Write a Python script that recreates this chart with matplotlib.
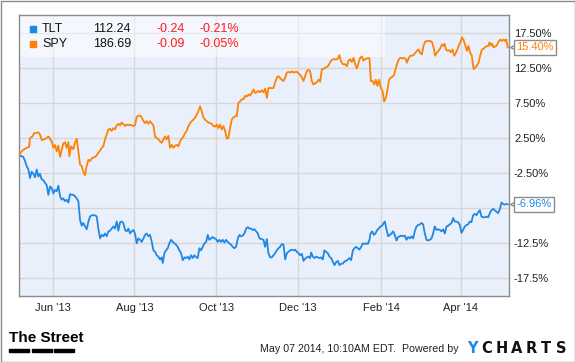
import matplotlib
matplotlib.use("Agg")
import matplotlib.pyplot as plt
import matplotlib.dates as mdates
from matplotlib.patches import Rectangle
from matplotlib.transforms import blended_transform_factory, ScaledTranslation
import pandas as pd

# ---- data (percent change since 2013-05-07) ----
start = pd.Timestamp("2013-05-07")
end = pd.Timestamp("2014-05-07")

tickers = ["TLT", "SPY"]
prices = ["112.24", "186.69"]
changes = ["-0.24", "-0.09"]
change_pcts = ["-0.21%", "-0.05%"]
last_labels = ["-6.96%", "15.40%"]
colors = ["#1e88e5", "#ff8205"]

tlt_day = [0, 2.0, 3.2, 4.5, 5.7, 7.0, 8.2, 9.4, 10.7, 11.9, 13.2, 14.4, 15.6, 16.9, 18.1,
           19.4, 20.6, 21.9, 23.1, 24.3, 25.6, 26.8, 28.1, 29.3, 30.6, 31.8, 33.0, 34.3, 35.5,
           36.8, 38.0, 39.2, 40.5, 41.7, 43.0, 44.2, 45.5, 46.7, 47.9, 49.2, 50.4, 51.7, 52.9,
           54.2, 56.6, 57.9, 59.1, 60.4, 61.6, 62.8, 64.1, 65.3, 66.6, 67.8, 69.0, 70.3, 71.5,
           72.8, 74.0, 75.3, 76.5, 77.7, 79.0, 80.2, 81.5, 82.7, 83.9, 85.2, 86.4, 87.7, 88.9,
           90.2, 91.4, 92.7, 93.9, 95.1, 96.4, 97.6, 98.9, 100.1, 101.3, 102.6, 103.8, 105.1,
           106.3, 107.1, 108.3, 109.5, 110.8, 112.0, 113.3, 114.5, 115.8, 117.0, 118.2, 119.5,
           120.7, 122.0, 123.2, 124.4, 125.7, 126.9, 128.2, 129.4, 130.7, 131.9, 133.1, 134.4,
           135.6, 136.9, 138.1, 139.4, 140.6, 141.8, 143.1, 144.3, 145.6, 146.8, 148.0, 149.3,
           150.5, 151.8, 153.0, 154.3, 155.5, 156.7, 158.0, 159.2, 160.5, 161.7, 163.0, 164.2,
           165.4, 166.7, 167.9, 169.2, 170.4, 171.6, 172.9, 174.1, 175.4, 176.6, 177.9, 179.1,
           182.1, 183.3, 184.6, 185.8, 187.1, 188.3, 189.5, 190.8, 192.0, 193.3, 194.5, 195.8,
           197.0, 198.3, 199.5, 200.7, 202.0, 203.2, 204.4, 205.7, 206.9, 208.2, 209.4, 210.7,
           211.9, 213.1, 214.4, 215.6, 216.9, 217.6, 218.9, 220.1, 221.3, 222.6, 223.8, 225.0,
           226.3, 227.5, 228.8, 230.0, 231.3, 232.5, 233.7, 235.0, 236.2, 237.5, 238.7, 240.0,
           241.2, 242.4, 243.7, 244.9, 246.2, 247.4, 248.7, 249.9, 251.1, 252.4, 253.6, 254.9,
           256.1, 257.3, 258.6, 259.8, 261.1, 261.8, 263.1, 264.3, 265.5, 266.8, 268.0, 269.3,
           270.5, 271.7, 272.5, 273.7, 275.0, 276.2, 277.5, 278.7, 279.9, 281.2, 282.4, 283.7,
           284.9, 286.1, 287.4, 288.6, 289.9, 291.1, 292.4, 293.6, 294.8, 296.1, 297.3, 298.6,
           299.8, 301.0, 302.3, 303.5, 304.8, 306.0, 307.3, 308.5, 309.7, 311.0, 312.2, 313.5,
           314.7, 315.9, 317.2, 318.4, 319.7, 320.9, 322.2, 323.4, 324.6, 325.9, 327.1, 328.4,
           329.6, 330.8, 332.1, 333.3, 334.6, 335.8, 337.0, 338.3, 339.5, 340.8, 342.0, 343.3,
           344.5, 345.7, 347.0, 348.2, 349.5, 350.7, 351.9, 353.2, 354.4, 355.7, 356.9, 358.1,
           359.4, 360.6, 361.9, 363.1, 364.0]
tlt_pct = [0.0, -0.1, -0.2, -0.8, -1.5, -2.0, -3.2, -2.3, -2.6, -3.1, -2.0, -3.0, -2.6, -3.4, -3.5,
           -3.9, -4.2, -5.6, -4.4, -4.6, -5.4, -4.9, -5.1, -4.3, -5.8, -6.3, -6.1, -6.5, -6.3,
           -6.7, -5.5, -5.6, -5.6, -5.8, -6.1, -6.5, -9.2, -10.0, -9.6, -10.1, -10.5, -9.4, -8.7,
           -8.5, -8.5, -8.7, -10.4, -11.8, -11.3, -11.5, -11.1, -11.5, -10.8, -10.7, -10.4, -10.1, -10.4,
           -9.4, -10.7, -9.5, -9.4, -9.6, -10.6, -10.8, -10.4, -11.1, -10.8, -10.6, -11.1, -12.5, -11.8,
           -12.0, -12.3, -11.8, -11.3, -11.1, -11.5, -11.3, -12.3, -13.5, -13.7, -14.2, -14.4, -14.8,
           -14.5, -15.3, -13.9, -13.5, -13.2, -12.5, -12.0, -12.3, -12.5, -12.7, -13.0, -13.5,
           -13.9, -14.9, -14.5, -14.6, -14.4, -14.8, -14.2, -14.6, -14.2, -14.5, -14.6, -13.2,
           -13.5, -13.0, -12.5, -12.3, -11.3, -12.0, -11.8, -11.6, -11.8, -11.9, -12.3, -12.0,
           -12.3, -12.0, -12.4, -12.0, -12.3, -12.5, -12.7, -13.0, -13.2, -13.0, -11.8, -11.3,
           -11.5, -11.4, -11.1, -10.4, -10.2, -10.4, -10.4, -10.6, -10.5, -10.8, -11.1, -11.8,
           -12.0, -13.0, -11.9, -13.9, -14.5, -14.5, -14.2, -13.9, -13.5, -13.2, -13.0, -12.6,
           -12.7, -14.8, -13.9, -13.7, -13.5, -13.4, -13.5, -13.4, -13.7, -13.9, -14.2, -14.0,
           -15.0, -14.7, -14.5, -14.4, -14.6, -13.8, -14.4, -14.6, -14.4, -14.5, -14.6, -14.5,
           -14.8, -13.5, -13.7, -13.9, -14.4, -14.6, -15.1, -15.6, -15.2, -15.0, -15.6, -15.4,
           -15.4, -15.1, -15.0, -14.8, -14.6, -14.9, -13.5, -13.2, -13.0, -13.2, -13.4, -13.0,
           -12.5, -12.6, -12.5, -12.6, -12.0, -11.1, -10.8, -11.3, -11.1, -10.6, -10.4, -10.1,
           -10.0, -9.6, -9.4, -10.5, -11.5, -11.3, -11.1, -10.8, -11.3, -12.1, -11.6, -11.5,
           -11.4, -11.5, -11.4, -12.0, -11.6, -11.8, -11.5, -11.8, -10.8, -10.1, -9.9, -9.8,
           -9.6, -9.8, -11.1, -12.0, -12.1, -12.0, -11.8, -11.1, -10.1, -10.6, -10.5, -10.6,
           -10.8, -10.5, -11.1, -10.1, -10.0, -9.8, -9.6, -8.9, -9.4, -9.4, -9.5, -9.9,
           -11.0, -10.6, -10.1, -9.9, -9.8, -9.4, -9.5, -8.5, -8.3, -8.5, -8.1, -7.8,
           -8.7, -8.8, -8.8, -8.7, -8.8, -8.2, -7.8, -7.6, -7.8, -8.0, -8.2, -7.7,
           -6.7, -6.9, -7.0, -6.9, -6.96]

spy_day = [0, 2.0, 3.2, 5.7, 7.5, 8.2, 9.9, 11.4, 12.4, 14.4, 15.6, 16.9, 18.9, 20.6, 21.9,
           23.1, 24.3, 25.6, 26.8, 28.1, 29.3, 30.6, 31.8, 33.0, 34.3, 35.5, 36.8, 37.5, 38.8,
           40.5, 41.7, 43.0, 44.2, 45.5, 46.7, 47.9, 49.2, 50.4, 51.7, 52.9, 54.2, 56.6, 57.9,
           59.1, 60.4, 61.6, 62.8, 64.1, 65.3, 66.6, 67.8, 69.0, 70.3, 71.5, 72.8, 74.0, 75.3,
           76.5, 77.7, 79.0, 80.2, 81.5, 82.7, 85.2, 86.4, 87.7, 88.9, 90.9, 92.7, 93.9, 95.1,
           96.4, 97.6, 98.9, 100.1, 101.3, 102.6, 103.8, 105.1, 106.3, 107.6, 108.8, 110.0,
           111.3, 112.5, 113.8, 115.0, 116.3, 117.5, 118.7, 120.0, 121.2, 122.5, 123.7, 124.9,
           126.2, 127.4, 128.7, 129.9, 131.2, 132.4, 133.6, 134.9, 136.1, 137.4, 138.6, 139.8,
           141.1, 142.3, 143.6, 144.8, 146.1, 147.3, 148.5, 149.8, 151.0, 152.3, 153.5, 154.8,
           156.0, 157.2, 158.5, 159.7, 161.0, 162.2, 163.4, 164.7, 165.9, 167.2, 168.4, 169.7,
           170.9, 172.1, 173.4, 174.6, 175.9, 177.1, 178.3, 179.6, 180.8, 182.1, 183.3, 184.6,
           185.8, 188.3, 189.5, 190.8, 192.0, 193.3, 195.0, 197.0, 198.3, 199.5, 200.7, 202.0,
           203.2, 204.4, 205.7, 206.9, 208.2, 209.4, 210.7, 211.9, 213.1, 214.4, 215.6, 216.9,
           218.1, 219.3, 220.6, 221.8, 223.1, 224.3, 225.6, 226.8, 228.0, 229.3, 230.5, 231.8,
           233.0, 234.2, 235.5, 237.2, 238.7, 239.7, 241.2, 242.9, 244.2, 245.4, 246.7, 247.9,
           249.2, 250.4, 251.6, 252.9, 254.1, 255.4, 256.6, 257.8, 259.1, 260.3, 261.1, 262.1,
           263.3, 264.6, 265.8, 267.0, 268.3, 269.5, 270.8, 272.0, 273.3, 274.5, 275.7, 277.0,
           278.2, 279.5, 280.7, 281.9, 283.2, 284.4, 285.7, 286.9, 288.2, 288.9, 290.2, 291.4,
           292.6, 293.9, 295.1, 296.4, 297.6, 298.8, 300.1, 301.3, 302.6, 303.8, 306.3, 307.5,
           308.8, 310.0, 311.2, 312.5, 313.7, 315.0, 316.2, 317.0, 318.0, 319.2, 320.4, 321.7,
           322.9, 324.2, 325.4, 326.6, 327.9, 329.1, 329.9, 331.1, 332.4, 333.6, 334.8, 336.1,
           337.3, 338.6, 339.8, 341.1, 342.3, 343.5, 344.8, 346.0, 347.3, 348.5, 349.8, 350.5,
           351.5, 352.5, 353.5, 354.7, 356.0, 357.2, 358.5, 359.7, 360.9, 362.2, 362.9, 364.0]
spy_pct = [0.0, 0.6, 0.8, 1.1, 1.2, 2.5, 2.7, 3.2, 3.2, 3.3, 3.0, 2.2, 2.3, 2.5, 2.7,
           2.4, 2.0, 1.1, 1.5, 0.6, 1.4, -0.2, 0.8, 1.7, 1.9, 1.1, 1.9, -0.1, 1.3,
           0.9, 1.8, 2.4, 0.6, -1.3, -1.5, -2.3, -2.8, -1.5, -0.6, -0.8, -0.4, -0.2, 0.0,
           0.4, 0.7, 1.1, 1.3, 2.3, 3.0, 3.7, 3.8, 3.5, 3.9, 3.7, 4.3, 4.5, 4.3,
           4.7, 4.5, 4.2, 4.4, 4.3, 4.4, 4.2, 4.3, 5.5, 5.7, 5.6, 4.9, 4.6, 4.9,
           4.5, 4.9, 4.6, 4.3, 2.7, 2.5, 2.3, 2.0, 1.8, 2.3, 2.7, 2.3,
           2.8, 1.1, 1.5, 1.1, 1.4, 1.5, 1.3, 2.0, 2.4, 2.7, 3.2, 3.5,
           4.2, 4.6, 4.9, 5.1, 5.4, 5.8, 6.3, 7.0, 6.3, 5.4, 5.1, 4.9,
           4.7, 4.6, 4.5, 4.2, 4.1, 4.4, 3.9, 4.4, 3.7, 4.2, 3.5, 2.4,
           2.5, 3.9, 5.1, 5.4, 5.6, 5.6, 7.5, 7.7, 8.0, 8.0, 8.5, 8.4,
           8.7, 8.5, 8.9, 9.4, 8.9, 9.0, 9.2, 9.0, 9.3, 9.0, 9.5, 8.2,
           9.6, 9.6, 9.6, 10.4, 11.1, 11.3, 10.9, 10.6, 11.1, 11.8, 11.9, 11.8,
           12.0, 11.8, 11.9, 11.9, 11.7, 11.5, 11.1, 10.6, 11.3, 12.0, 12.2, 12.0,
           10.6, 10.1, 10.3, 10.4, 10.8, 10.5, 12.3, 12.3, 12.5, 12.6, 12.8, 13.3,
           13.6, 13.7, 13.7, 13.7, 14.3, 13.5, 13.0, 13.0, 12.7, 13.5, 13.7, 13.3,
           13.9, 13.0, 12.4, 13.2, 13.9, 14.1, 13.5, 13.7, 13.8, 13.9, 13.8, 10.6,
           10.6, 10.1, 10.8, 9.9, 10.8, 9.6, 9.2, 7.7, 8.2, 9.4, 10.8, 11.1,
           11.2, 11.5, 12.5, 13.2, 13.8, 13.9, 13.8, 13.9, 13.7, 13.2, 13.8, 14.2,
           14.2, 14.3, 14.6, 14.9, 15.1, 14.6, 14.4, 15.6, 16.2, 16.3, 16.3, 16.2,
           15.4, 14.2, 14.6, 14.9, 15.2, 15.8, 15.6, 15.9, 15.1, 14.9, 15.0, 14.7,
           15.1, 14.2, 14.6, 15.1, 15.8, 16.3, 16.8, 16.5, 15.7, 14.9, 15.6, 14.6,
           14.2, 12.3, 12.5, 12.8, 13.2, 14.2, 15.1, 15.2, 15.4, 15.6, 15.6, 16.1,
           15.7, 15.9, 15.4, 15.5, 15.7, 16.2, 16.5, 16.3, 16.5, 16.3, 16.5, 15.4]

month_ticks = ["2013-06-01", "2013-08-01", "2013-10-01", "2013-12-01", "2014-02-01", "2014-04-01"]
y_ticks = [17.5, 12.5, 7.5, 2.5, -2.5, -7.5, -12.5, -17.5]
# the -7.5 label sits under the TLT value flag, so it is not shown
y_labels = ["17.50%", "12.50%", "7.50%", "2.50%", "-2.50%", "", "-12.5%", "-17.5%"]

plt.rcParams["font.family"] = "Liberation Sans"

W, H = 575, 362
fig = plt.figure(figsize=(W / 100, H / 100), dpi=100)
ax = fig.add_axes([19 / W, 66 / H, 490 / W, 281 / H])
ax.set_facecolor("#eaf0fb")

series = [(tlt_day, tlt_pct), (spy_day, spy_pct)]
for (days, pct), col in zip(series, colors):
    dates = start + pd.to_timedelta(days, unit="D")
    ax.plot(dates, pct, color=col, lw=1.3, zorder=3)

ax.set_xlim(start, end)
ax.set_ylim(-20, 20)
ax.set_xticks(pd.to_datetime(month_ticks))
ax.xaxis.set_major_formatter(mdates.DateFormatter("%b '%y"))
ax.yaxis.tick_right()
ax.set_yticks(y_ticks)
ax.set_yticklabels(y_labels)
ax.tick_params(axis="both", length=0, labelsize=8, labelcolor="#222222")
ax.tick_params(axis="x", pad=5)
ax.tick_params(axis="y", pad=3.6)
ax.set_axisbelow(True)
ax.grid(color="#d6d6d6", lw=1)
for sp in ax.spines.values():
    sp.set_color("#8c8c8c")
    sp.set_linewidth(1)

# legend panel
ax.add_patch(Rectangle((0, 0.8505), 0.747, 0.1495, transform=ax.transAxes,
                       fc="white", alpha=0.5, ec="none", zorder=1.5))
row_y = [0.950, 0.897]
for i in range(len(tickers)):
    y = row_y[i]
    ax.scatter([0.0276], [y], marker="s", s=14, color=colors[i],
               transform=ax.transAxes, clip_on=False, zorder=5)
    ax.text(0.0469, y, tickers[i], transform=ax.transAxes, fontsize=9,
            va="center", ha="left", color="#111111", zorder=5)
    ax.text(0.2286, y, prices[i], transform=ax.transAxes, fontsize=9,
            va="center", ha="right", color="#111111", zorder=5)
    ax.text(0.3388, y, changes[i], transform=ax.transAxes, fontsize=9,
            va="center", ha="right", color="#ff1a1a", zorder=5)
    ax.text(0.449, y, change_pcts[i], transform=ax.transAxes, fontsize=9,
            va="center", ha="right", color="#ff1a1a", zorder=5)

# last-value flags on the right axis
notch = blended_transform_factory(ax.transAxes, ax.transData) + \
    ScaledTranslation(3.6 / 100, 0, fig.dpi_scale_trans)
for (days, pct), lab, col in zip(series, last_labels, colors):
    ax.plot([1], [pct[-1]], marker="<", ms=4.5, mfc="white", mec="#8c8c8c",
            mew=1, transform=notch, clip_on=False, zorder=6)
    ax.annotate(lab, xy=(1, pct[-1]), xycoords=("axes fraction", "data"),
                xytext=(5.3, 0), textcoords="offset points", ha="left", va="center",
                color=col, fontsize=8, annotation_clip=False, zorder=7,
                bbox=dict(boxstyle="square,pad=0.22", fc="white", ec="#8c8c8c", lw=1))

# footer
fig.text(9 / W, 1 - 338.5 / H, "The Street", fontsize=11, fontweight="bold",
         family="Liberation Sans", va="center", ha="left")
for x0 in [9, 31.5, 54]:
    fig.add_artist(Rectangle((x0 / W, 1 - 352 / H), 20 / W, 3 / H,
                             transform=fig.transFigure, color="black"))
fig.text(459 / W, 1 - 349 / H, "May 07 2014, 10:10AM EDT.  Powered by", fontsize=7.7,
         va="center", ha="right", color="#222222")
for k, ch in enumerate("YCHARTS"):
    fig.text((472 + 14.8 * k) / W, 1 - 348.5 / H, ch, fontsize=10.5, fontweight="bold",
             family="DejaVu Sans", va="center", ha="center",
             color=colors[0] if k == 0 else "#111111")

fig.add_artist(Rectangle((0.5 / W, 0.5 / H), 1 - 1 / W, 1 - 1 / H, transform=fig.transFigure,
                         fill=False, ec="#8c8c8c", lw=1))

fig.savefig("out.png", dpi=100)
